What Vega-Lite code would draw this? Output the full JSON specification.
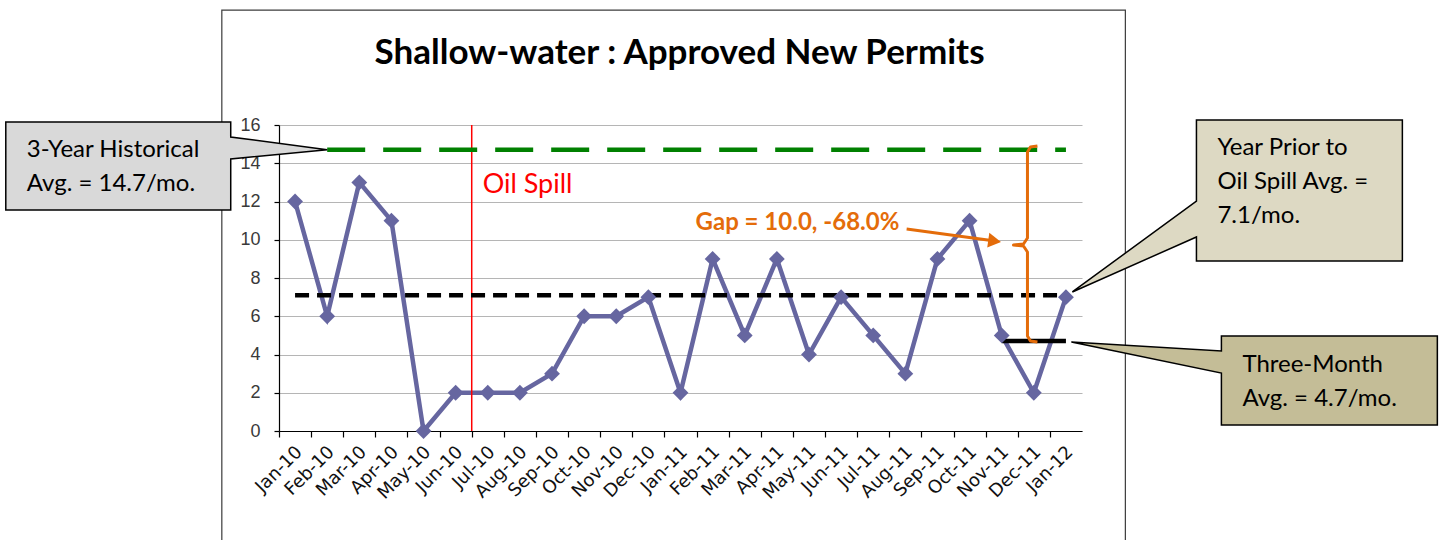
{
  "$schema": "https://vega.github.io/schema/vega-lite/v6.json",
  "width": 803,
  "height": 306,
  "autosize": {"type": "none"},
  "padding": {"left": 279, "top": 125, "right": 363, "bottom": 109},
  "background": "white",
  "config": {"view": {"stroke": null}},
  "resolve": {"axis": {"x": "independent", "y": "independent"}},
  "datasets": {
    "permits": [
      {"month": "Jan-10", "idx": 0, "permits": 12},
      {"month": "Feb-10", "idx": 1, "permits": 6},
      {"month": "Mar-10", "idx": 2, "permits": 13},
      {"month": "Apr-10", "idx": 3, "permits": 11},
      {"month": "May-10", "idx": 4, "permits": 0},
      {"month": "Jun-10", "idx": 5, "permits": 2},
      {"month": "Jul-10", "idx": 6, "permits": 2},
      {"month": "Aug-10", "idx": 7, "permits": 2},
      {"month": "Sep-10", "idx": 8, "permits": 3},
      {"month": "Oct-10", "idx": 9, "permits": 6},
      {"month": "Nov-10", "idx": 10, "permits": 6},
      {"month": "Dec-10", "idx": 11, "permits": 7},
      {"month": "Jan-11", "idx": 12, "permits": 2},
      {"month": "Feb-11", "idx": 13, "permits": 9},
      {"month": "Mar-11", "idx": 14, "permits": 5},
      {"month": "Apr-11", "idx": 15, "permits": 9},
      {"month": "May-11", "idx": 16, "permits": 4},
      {"month": "Jun-11", "idx": 17, "permits": 7},
      {"month": "Jul-11", "idx": 18, "permits": 5},
      {"month": "Aug-11", "idx": 19, "permits": 3},
      {"month": "Sep-11", "idx": 20, "permits": 9},
      {"month": "Oct-11", "idx": 21, "permits": 11},
      {"month": "Nov-11", "idx": 22, "permits": 5},
      {"month": "Dec-11", "idx": 23, "permits": 2},
      {"month": "Jan-12", "idx": 24, "permits": 7}
    ]
  },
  "layer": [
    {
      "data": {"name": "permits"},
      "mark": {"type": "line", "color": "#6666a0", "strokeWidth": 4.5},
      "encoding": {
        "x": {"field": "idx", "type": "quantitative", "scale": {"domain": [-0.5, 24.5], "nice": false, "zero": false},
          "axis": {"values": [0, 1, 2, 3, 4, 5, 6, 7, 8, 9, 10, 11, 12, 13, 14, 15, 16, 17, 18, 19, 20, 21, 22, 23, 24, 25],
            "labelExpr": "datum.value < 25 ? ['Jan-10','Feb-10','Mar-10','Apr-10','May-10','Jun-10','Jul-10','Aug-10','Sep-10','Oct-10','Nov-10','Dec-10','Jan-11','Feb-11','Mar-11','Apr-11','May-11','Jun-11','Jul-11','Aug-11','Sep-11','Oct-11','Nov-11','Dec-11','Jan-12'][datum.value] : ''",
            "tickOffset": -16.06, "labelOffset": 20,
            "labelAngle": -45, "labelAlign": "right", "labelBaseline": "middle", "labelPadding": 12,
            "labelFont": "DejaVu Sans", "labelFontSize": 18, "labelColor": "#111111", "labelOverlap": false, "labelBound": false, "labelFlush": false,
            "ticks": true, "tickSize": 6, "tickColor": "#000000", "tickWidth": 1.2,
            "grid": false, "domain": true, "domainColor": "#000000", "domainWidth": 1.2, "title": null, "orient": "bottom"}},
        "y": {"field": "permits", "type": "quantitative", "scale": {"domain": [0, 16], "nice": false, "zero": false},
          "axis": {"values": [0, 2, 4, 6, 8, 10, 12, 14, 16], "grid": true, "gridColor": "#b5b5b5", "gridWidth": 1.2, "ticks": true, "tickSize": 5, "tickColor": "#000000", "tickWidth": 1.2, "domain": true, "domainColor": "#000000", "domainWidth": 1.2, "labelFont": "Liberation Sans", "labelFontSize": 18, "labelColor": "#3a3a3a", "labelPadding": 14, "title": null, "orient": "left"}}
      }
    },
    {
      "data": {"values": [{"x": -2.28, "x2": 25.85, "y": 22.01, "y2": -6}]},
      "mark": {"type": "rect", "filled": false, "stroke": "#3c3c3c", "strokeWidth": 1.2},
      "encoding": {
        "x": {"field": "x", "type": "quantitative", "axis": null},
        "y": {"field": "y", "type": "quantitative", "axis": null},
        "x2": {"field": "x2"}, "y2": {"field": "y2"}}
    },
    {
      "data": {"values": [{"x": 11.97, "y": 19.19, "label": "Shallow-water : Approved New Permits"}]},
      "mark": {"type": "text", "align": "center", "baseline": "alphabetic", "font": "Lato", "fontSize": 35, "fontWeight": "bold", "color": "#000000"},
      "encoding": {
        "x": {"field": "x", "type": "quantitative", "axis": null},
        "y": {"field": "y", "type": "quantitative", "axis": null},
        "text": {"field": "label"}}
    },
    {
      "data": {"values": [{"x": 5.5, "y": 0, "y2": 16}]},
      "mark": {"type": "rule", "color": "#ff0000", "strokeWidth": 1.5},
      "encoding": {
        "x": {"field": "x", "type": "quantitative", "axis": null},
        "y": {"field": "y", "type": "quantitative", "axis": null},
        "y2": {"field": "y2"}
      }
    },
    {
      "data": {"values": [{"x": 1, "x2": 24, "y": 14.7}]},
      "mark": {"type": "rule", "color": "#008000", "strokeWidth": 4.5, "strokeDash": [38, 18]},
      "encoding": {
        "x": {"field": "x", "type": "quantitative", "axis": null},
        "y": {"field": "y", "type": "quantitative", "axis": null},
        "x2": {"field": "x2"}}
    },
    {
      "data": {"values": [{"x": 0, "x2": 24, "y": 7.1}]},
      "mark": {"type": "rule", "color": "#000000", "strokeWidth": 4.5, "strokeDash": [14, 8]},
      "encoding": {
        "x": {"field": "x", "type": "quantitative", "axis": null},
        "y": {"field": "y", "type": "quantitative", "axis": null},
        "x2": {"field": "x2"}}
    },
    {
      "data": {"values": [{"x": 22, "x2": 24, "y": 4.7}]},
      "mark": {"type": "rule", "color": "#000000", "strokeWidth": 4.5},
      "encoding": {
        "x": {"field": "x", "type": "quantitative", "axis": null},
        "y": {"field": "y", "type": "quantitative", "axis": null},
        "x2": {"field": "x2"}}
    },
    {
      "data": {"name": "permits"},
      "mark": {"type": "point", "shape": "diamond", "filled": true, "size": 250, "color": "#6666a0", "opacity": 1},
      "encoding": {
        "x": {"field": "idx", "type": "quantitative", "axis": null},
        "y": {"field": "permits", "type": "quantitative", "axis": null}
      }
    },
    {
      "data": {"values": [{"x": 5.84, "y": 12.44, "label": "Oil Spill"}]},
      "mark": {"type": "text", "align": "left", "baseline": "alphabetic", "font": "Lato", "fontSize": 27, "color": "#ff0000"},
      "encoding": {
        "x": {"field": "x", "type": "quantitative", "axis": null},
        "y": {"field": "y", "type": "quantitative", "axis": null},
        "text": {"field": "label"}}
    },
    {
      "data": {"values": [{"x": 12.469, "y": 10.51, "label": "Gap = 10.0, -68.0%"}]},
      "mark": {"type": "text", "align": "left", "baseline": "alphabetic", "font": "Lato", "fontSize": 24, "fontWeight": "bold", "color": "#e46c0a"},
      "encoding": {
        "x": {"field": "x", "type": "quantitative", "axis": null},
        "y": {"field": "y", "type": "quantitative", "axis": null},
        "text": {"field": "label"}}
    },
    {
      "data": {"values": [{"x": 19.04, "y": 10.56, "x2": 21.85, "y2": 9.92}]},
      "mark": {"type": "rule", "color": "#e46c0a", "strokeWidth": 3},
      "encoding": {
        "x": {"field": "x", "type": "quantitative", "axis": null},
        "y": {"field": "y", "type": "quantitative", "axis": null},
        "x2": {"field": "x2"}, "y2": {"field": "y2"}}
    },
    {
      "data": {"values": [{"x": 21.78, "y": 9.93}]},
      "mark": {"type": "point", "shape": "triangle-right", "filled": true, "size": 220, "angle": 8, "color": "#e46c0a", "opacity": 1},
      "encoding": {
        "x": {"field": "x", "type": "quantitative", "axis": null},
        "y": {"field": "y", "type": "quantitative", "axis": null}}
    },
    {
      "data": {"values": [
        {"o": 1, "x": 23.113, "y": 14.902},
        {"o": 2, "x": 22.895, "y": 14.85},
        {"o": 3, "x": 22.802, "y": 14.588},
        {"o": 4, "x": 22.802, "y": 10.092},
        {"o": 5, "x": 22.678, "y": 9.778},
        {"o": 6, "x": 22.367, "y": 9.725},
        {"o": 7, "x": 22.678, "y": 9.673},
        {"o": 8, "x": 22.802, "y": 9.359},
        {"o": 9, "x": 22.802, "y": 4.967},
        {"o": 10, "x": 22.895, "y": 4.706},
        {"o": 11, "x": 23.113, "y": 4.654}
      ]},
      "mark": {"type": "line", "color": "#e46c0a", "strokeWidth": 3, "strokeJoin": "round"},
      "encoding": {
        "x": {"field": "x", "type": "quantitative", "axis": null},
        "y": {"field": "y", "type": "quantitative", "axis": null},
        "order": {"field": "o", "type": "quantitative"}}
    },
    {
      "data": {"values": [
        {"id": "hist", "o": 1, "x": -9.006, "y": 16.157},
        {"id": "hist", "o": 2, "x": -2.003, "y": 16.157},
        {"id": "hist", "o": 3, "x": -2.003, "y": 15.373},
        {"id": "hist", "o": 4, "x": 1.0, "y": 14.7},
        {"id": "hist", "o": 5, "x": -2.003, "y": 14.222},
        {"id": "hist", "o": 6, "x": -2.003, "y": 11.556},
        {"id": "hist", "o": 7, "x": -9.006, "y": 11.556},
        {"id": "prior", "o": 1, "x": 28.063, "y": 16.261},
        {"id": "prior", "o": 2, "x": 34.474, "y": 16.261},
        {"id": "prior", "o": 3, "x": 34.474, "y": 8.889},
        {"id": "prior", "o": 4, "x": 28.063, "y": 8.889},
        {"id": "prior", "o": 5, "x": 28.063, "y": 10.144},
        {"id": "prior", "o": 6, "x": 24.2, "y": 7.27},
        {"id": "prior", "o": 7, "x": 28.063, "y": 12.026},
        {"id": "three", "o": 1, "x": 28.84, "y": 4.967},
        {"id": "three", "o": 2, "x": 35.563, "y": 4.967},
        {"id": "three", "o": 3, "x": 35.563, "y": 0.314},
        {"id": "three", "o": 4, "x": 28.84, "y": 0.314},
        {"id": "three", "o": 5, "x": 28.84, "y": 3.033},
        {"id": "three", "o": 6, "x": 24.17, "y": 4.654},
        {"id": "three", "o": 7, "x": 28.84, "y": 4.183}
      ]},
      "mark": {"type": "line", "interpolate": "linear-closed", "stroke": "#000000", "strokeWidth": 1.5, "strokeJoin": "miter"},
      "encoding": {
        "x": {"field": "x", "type": "quantitative", "axis": null},
        "y": {"field": "y", "type": "quantitative", "axis": null},
        "detail": {"field": "id"},
        "order": {"field": "o", "type": "quantitative"},
        "fill": {"field": "id", "type": "nominal", "scale": {"domain": ["hist", "prior", "three"], "range": ["#d9d9d9", "#ddd9c3", "#c4bd97"]}, "legend": null}
      }
    },
    {
      "data": {"values": [
        {"id": "hist", "x": -8.353, "y": 14.327, "label": "3-Year Historical\nAvg. = 14.7/mo."},
        {"id": "prior", "x": 28.716, "y": 14.431, "label": "Year Prior to\nOil Spill Avg. =\n7.1/mo."},
        {"id": "three", "x": 29.494, "y": 3.085, "label": "Three-Month\nAvg. = 4.7/mo."}
      ]},
      "mark": {"type": "text", "align": "left", "baseline": "alphabetic", "font": "Lato", "fontSize": 24, "lineHeight": 34, "lineBreak": "\n", "color": "#000000"},
      "encoding": {
        "x": {"field": "x", "type": "quantitative", "axis": null},
        "y": {"field": "y", "type": "quantitative", "axis": null},
        "text": {"field": "label"}}
    }
  ]
}
